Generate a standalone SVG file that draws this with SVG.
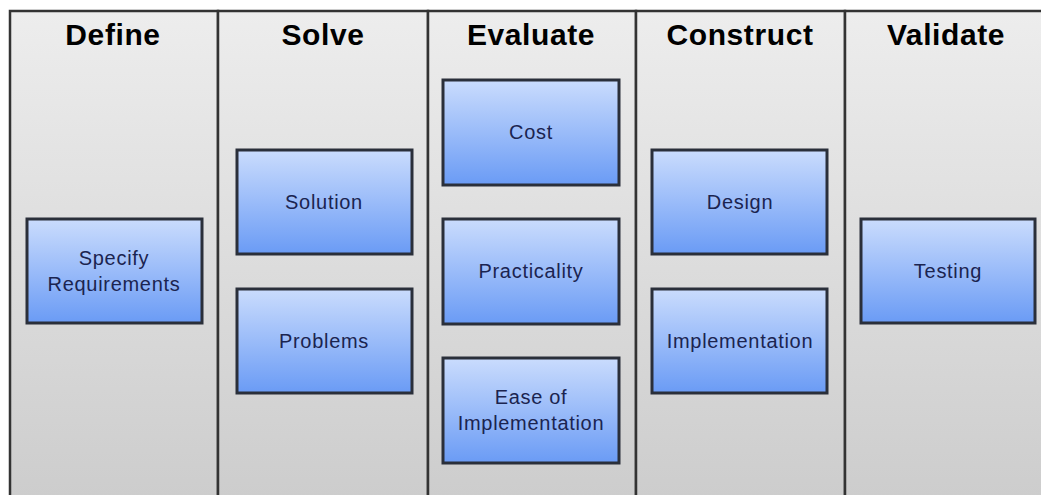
<svg xmlns="http://www.w3.org/2000/svg" width="1041" height="495" viewBox="0 0 1041 495">
<defs>
<linearGradient id="colg" x1="0" y1="0" x2="0" y2="1">
<stop offset="0" stop-color="#ededed"/>
<stop offset="1" stop-color="#cccccc"/>
</linearGradient>
<linearGradient id="boxg" x1="0" y1="0" x2="0" y2="1">
<stop offset="0" stop-color="#cadcfd"/>
<stop offset="1" stop-color="#6a9bf5"/>
</linearGradient>
<style>
.col{fill:url(#colg);stroke:#333333;stroke-width:2.5}
.hdr{font-family:"Liberation Sans",Arial,sans-serif;font-weight:bold;font-size:30px;letter-spacing:0.6px;fill:#000;text-anchor:middle}
.box{fill:url(#boxg);stroke:#2a2f3a;stroke-width:3}
.lbl{font-family:"Liberation Sans",Arial,sans-serif;font-size:20px;letter-spacing:0.7px;fill:#1b2450;text-anchor:middle}
</style>
</defs>
<rect width="1041" height="495" fill="#ffffff"/>
<g id="lanes">
<g id="lane-define"><rect class="col" x="10" y="11" width="208" height="500"/><text class="hdr" x="113" y="45">Define</text></g>
<g id="lane-solve"><rect class="col" x="218" y="11" width="210" height="500"/><text class="hdr" x="323" y="45">Solve</text></g>
<g id="lane-evaluate"><rect class="col" x="428" y="11" width="208" height="500"/><text class="hdr" x="531" y="45">Evaluate</text></g>
<g id="lane-construct"><rect class="col" x="636" y="11" width="209" height="500"/><text class="hdr" x="740" y="45">Construct</text></g>
<g id="lane-validate"><rect class="col" x="845" y="11" width="210" height="500"/><text class="hdr" x="946" y="45">Validate</text></g>
</g>
<g id="connectors"></g>
<g id="specify"><rect class="box" x="27" y="219" width="175" height="104"/><text class="lbl" x="114" y="265">Specify</text><text class="lbl" x="114" y="291">Requirements</text></g>
<g id="solution"><rect class="box" x="237" y="150" width="175" height="104"/><text class="lbl" x="324" y="209">Solution</text></g>
<g id="problems"><rect class="box" x="237" y="289" width="175" height="104"/><text class="lbl" x="324" y="348">Problems</text></g>
<g id="cost"><rect class="box" x="443" y="80" width="176" height="105"/><text class="lbl" x="531" y="139">Cost</text></g>
<g id="practicality"><rect class="box" x="443" y="219" width="176" height="105"/><text class="lbl" x="531" y="278">Practicality</text></g>
<g id="ease"><rect class="box" x="443" y="358" width="176" height="105"/><text class="lbl" x="531" y="404">Ease of</text><text class="lbl" x="531" y="430">Implementation</text></g>
<g id="design"><rect class="box" x="652" y="150" width="175" height="104"/><text class="lbl" x="740" y="209">Design</text></g>
<g id="implementation"><rect class="box" x="652" y="289" width="175" height="104"/><text class="lbl" x="740" y="348">Implementation</text></g>
<g id="testing"><rect class="box" x="861" y="219" width="174" height="104"/><text class="lbl" x="948" y="278">Testing</text></g>
</svg>
